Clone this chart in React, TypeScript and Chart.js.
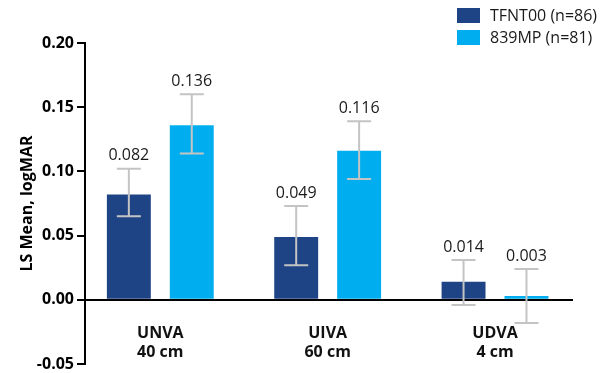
import { useEffect, useRef } from 'react';
import { Chart, registerables } from 'chart.js';

Chart.register(...registerables);

const categories: string[][] = [['UNVA', '40 cm'], ['UIVA', '60 cm'], ['UDVA', '4 cm']];
const seriesNames = ['TFNT00 (n=86)', '839MP (n=81)'];
const tfntValues = [0.082, 0.049, 0.014];
const mpValues = [0.136, 0.116, 0.003];
const tfntLower = [0.065, 0.027, -0.004];
const tfntUpper = [0.102, 0.073, 0.031];
const mpLower = [0.114, 0.094, -0.018];
const mpUpper = [0.160, 0.139, 0.024];
const yMin = -0.05;
const yMax = 0.2;
const yStep = 0.05;
const seriesColors = ['#1E4485', '#00AEEF'];

const FONT = "'Open Sans', 'Noto Sans', sans-serif";

const errorLows = [tfntLower, mpLower];
const errorHighs = [tfntUpper, mpUpper];
const seriesValues = [tfntValues, mpValues];

const errorBarPlugin = {
  id: 'errorBars',
  afterDatasetsDraw(chart: any) {
    const ctx = chart.ctx;
    const yScale = chart.scales.y;
    ctx.save();
    chart.data.datasets.forEach((_ds: any, di: number) => {
      const meta = chart.getDatasetMeta(di);
      meta.data.forEach((bar: any, j: number) => {
        const x = bar.x;
        const yTop = yScale.getPixelForValue(errorHighs[di][j]);
        const yBot = yScale.getPixelForValue(errorLows[di][j]);
        ctx.strokeStyle = '#c4c4c4';
        ctx.lineWidth = 2;
        ctx.beginPath();
        ctx.moveTo(x, yTop);
        ctx.lineTo(x, yBot);
        ctx.moveTo(x - 12, yTop);
        ctx.lineTo(x + 12, yTop);
        ctx.moveTo(x - 12, yBot);
        ctx.lineTo(x + 12, yBot);
        ctx.stroke();
        ctx.fillStyle = '#1a1a1a';
        ctx.font = `400 16px ${FONT}`;
        ctx.textAlign = 'center';
        ctx.textBaseline = 'middle';
        ctx.fillText(seriesValues[di][j].toFixed(3), x, yTop - 13);
      });
    });
    ctx.restore();
  },
};

const legendPlugin = {
  id: 'customLegend',
  afterDraw(chart: any) {
    const ctx = chart.ctx;
    ctx.save();
    chart.data.datasets.forEach((ds: any, i: number) => {
      const top = 8 + i * 22;
      ctx.fillStyle = ds.backgroundColor;
      ctx.fillRect(457, top, 23, 15);
      ctx.fillStyle = '#1a1a1a';
      ctx.font = `400 16px ${FONT}`;
      ctx.textAlign = 'left';
      ctx.textBaseline = 'middle';
      ctx.fillText(ds.label, 490, top + 8);
    });
    ctx.restore();
  },
};

export default function App() {
  const canvasRef = useRef<HTMLCanvasElement>(null);

  useEffect(() => {
    const canvas = canvasRef.current;
    if (!canvas) return;
    const chart = new Chart(canvas, {
      type: 'bar',
      data: {
        datasets: [
          {
            label: seriesNames[0],
            data: tfntValues.map((v, i) => ({ x: i, y: v })),
            backgroundColor: seriesColors[0],
            categoryPercentage: 0.752,
            barPercentage: 0.698,
          },
          {
            label: seriesNames[1],
            data: mpValues.map((v, i) => ({ x: i, y: v })),
            backgroundColor: seriesColors[1],
            categoryPercentage: 0.752,
            barPercentage: 0.698,
          },
        ],
      } as any,
      options: {
        responsive: false,
        animation: false,
        devicePixelRatio: 1,
        layout: { padding: { left: 0, right: 29, top: 43, bottom: 9 } },
        plugins: {
          legend: { display: false },
          tooltip: { enabled: false },
        },
        scales: {
          x: {
            type: 'linear',
            position: { y: 0 } as any,
            min: -0.45,
            max: 2.46,
            offset: false,
            afterBuildTicks: (scale: any) => {
              scale.ticks = categories.map((_c, i) => ({ value: i }));
            },
            grid: { display: false, drawTicks: false, offset: false },
            border: { display: true, color: '#000', width: 2 },
            ticks: {
              autoSkip: false,
              maxRotation: 0,
              padding: 24,
              color: '#111',
              font: { family: FONT, size: 16, weight: 'bold', lineHeight: 1.2 },
              callback: (value: any) => categories[Math.round(Number(value))],
            },
          } as any,
          y: {
            type: 'linear',
            min: yMin,
            max: yMax,
            afterFit: (scale: any) => {
              scale.width = 85;
              scale.paddingBottom = 0;
              scale.paddingTop = 0;
            },
            border: { display: true, color: '#000', width: 2 },
            grid: { drawOnChartArea: false, drawTicks: true, tickLength: 8, color: '#000', lineWidth: 2 },
            ticks: {
              stepSize: yStep,
              padding: 3,
              color: '#000',
              font: { family: FONT, size: 16, weight: 'bold' },
              callback: (value: any) => Number(value).toFixed(2),
            },
            title: {
              display: true,
              text: 'LS Mean, logMAR',
              color: '#000',
              padding: { top: 18, bottom: 0 },
              font: { family: FONT, size: 16, weight: 'bold', lineHeight: 1.2 },
            },
          } as any,
        },
      },
      plugins: [errorBarPlugin, legendPlugin],
    });
    return () => chart.destroy();
  }, []);

  return (
    <div style={{ position: 'absolute', left: 0, top: 0, width: 601, height: 373 }}>
      <canvas ref={canvasRef} width={601} height={373} />
    </div>
  );
}
